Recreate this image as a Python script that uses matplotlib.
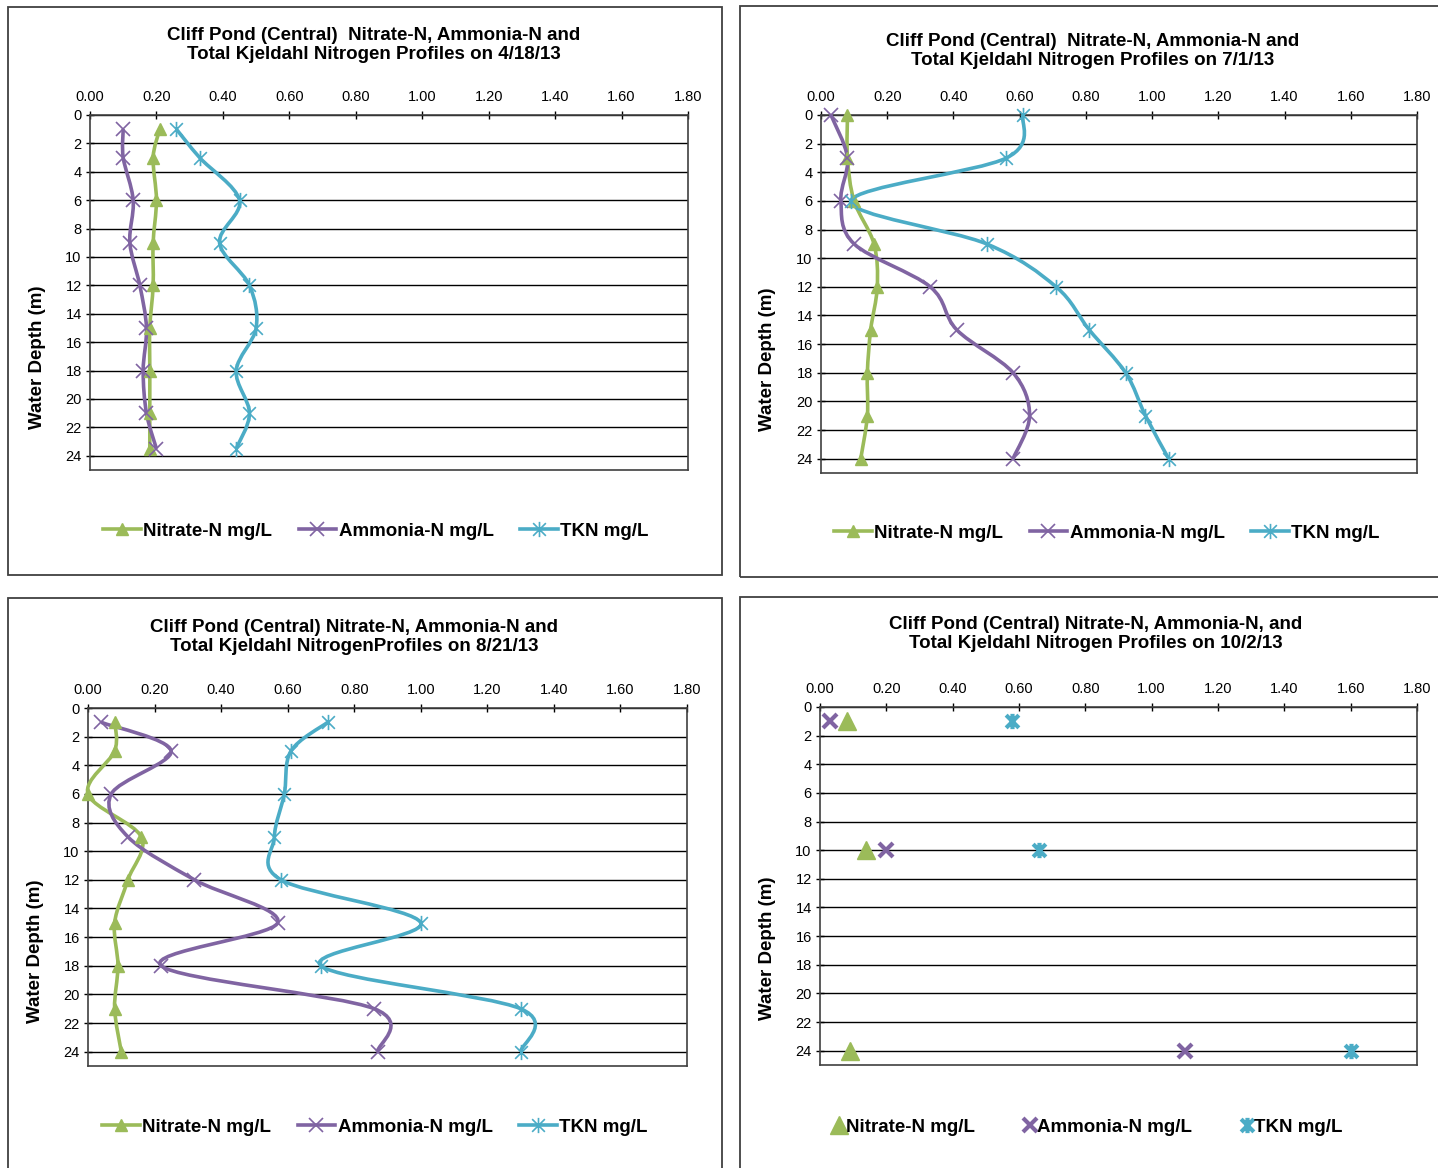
import numpy as np
import matplotlib
matplotlib.use('Agg')
import matplotlib.pyplot as plt
from matplotlib.path import Path
from matplotlib.patches import PathPatch, Rectangle
from matplotlib.lines import Line2D

plt.rcParams['font.family'] = ['Liberation Sans', 'DejaVu Sans']

# --- data (mg/L vs water depth in m) ---
depth_apr = [1, 3, 6, 9, 12, 15, 18, 21, 23.5]
nitrate_apr = [0.21, 0.19, 0.20, 0.19, 0.19, 0.18, 0.18, 0.18, 0.18]
ammonia_apr = [0.10, 0.10, 0.13, 0.12, 0.15, 0.17, 0.16, 0.17, 0.20]
tkn_apr = [0.26, 0.33, 0.45, 0.39, 0.48, 0.50, 0.44, 0.48, 0.44]

depth_jul = [0, 3, 6, 9, 12, 15, 18, 21, 24]
nitrate_jul = [0.08, 0.08, 0.10, 0.16, 0.17, 0.15, 0.14, 0.14, 0.12]
ammonia_jul = [0.03, 0.08, 0.06, 0.10, 0.33, 0.41, 0.58, 0.63, 0.58]
tkn_jul = [0.61, 0.56, 0.09, 0.50, 0.71, 0.81, 0.92, 0.98, 1.05]

depth_aug = [1, 3, 6, 9, 12, 15, 18, 21, 24]
nitrate_aug = [0.08, 0.08, 0.00, 0.16, 0.12, 0.08, 0.09, 0.08, 0.10]
ammonia_aug = [0.04, 0.25, 0.07, 0.12, 0.32, 0.57, 0.22, 0.86, 0.87]
tkn_aug = [0.72, 0.61, 0.59, 0.56, 0.58, 1.00, 0.70, 1.30, 1.30]

depth_oct = [1, 10, 24]
nitrate_oct = [0.08, 0.14, 0.09]
ammonia_oct = [0.03, 0.20, 1.10]
tkn_oct = [0.58, 0.66, 1.60]

titles = [
    'Cliff Pond (Central)  Nitrate-N, Ammonia-N and\nTotal Kjeldahl Nitrogen Profiles on 4/18/13',
    'Cliff Pond (Central)  Nitrate-N, Ammonia-N and\nTotal Kjeldahl Nitrogen Profiles on 7/1/13',
    'Cliff Pond (Central) Nitrate-N, Ammonia-N and\nTotal Kjeldahl NitrogenProfiles on 8/21/13',
    'Cliff Pond (Central) Nitrate-N, Ammonia-N, and\nTotal Kjeldahl Nitrogen Profiles on 10/2/13',
]
series_names = ['Nitrate-N mg/L', 'Ammonia-N mg/L', 'TKN mg/L']
x_ticks = [0.0, 0.2, 0.4, 0.6, 0.8, 1.0, 1.2, 1.4, 1.6, 1.8]
y_ticks = [0, 2, 4, 6, 8, 10, 12, 14, 16, 18, 20, 22, 24]

GREEN = '#9BBB59'
PURPLE = '#8064A2'
BLUE = '#4BACC6'
colors = [GREEN, PURPLE, BLUE]

# excel-like "star" marker: an x with a vertical bar
star = Path([(-1, -1), (1, 1), (-1, 1), (1, -1), (0, -1.2), (0, 1.2)],
            [Path.MOVETO, Path.LINETO, Path.MOVETO, Path.LINETO, Path.MOVETO, Path.LINETO])
markers = ['^', 'x', star]

W, H = 1438, 1168
fig = plt.figure(figsize=(W / 100, H / 100), dpi=100)


def box(l, t, r, b):
    return [l / W, 1 - b / H, (r - l) / W, (b - t) / H]


def smooth_path(x, y):
    # bezier through the points, like excel's smoothed line
    pts = np.column_stack([x, y]).astype(float)
    ext = np.vstack([pts[0], pts, pts[-1]])
    verts = [pts[0]]
    codes = [Path.MOVETO]
    for i in range(len(pts) - 1):
        p0, p1, p2, p3 = ext[i], ext[i + 1], ext[i + 2], ext[i + 3]
        verts += [p1 + (p2 - p0) / 6, p2 - (p3 - p1) / 6, p2]
        codes += [Path.CURVE4] * 3
    return Path(verts, codes)


frames = [(8, 7, 722, 575), (740, 6, 1450, 577), (8, 598, 722, 1180), (740, 597, 1450, 1180)]
axboxes = [(90, 115, 688, 470), (821, 115, 1417, 473), (88, 708, 687, 1066), (820, 707, 1417, 1065)]
title_pos = [(374, 45), (1093, 51), (354, 637), (1096, 634)]
ylabel_pos = [(37, 357), (768, 359), (35, 951), (768, 948)]
legend_pos = [(376, 531), (1107, 533), (375, 1127), (1088, 1127)]
data = [
    (depth_apr, [nitrate_apr, ammonia_apr, tkn_apr]),
    (depth_jul, [nitrate_jul, ammonia_jul, tkn_jul]),
    (depth_aug, [nitrate_aug, ammonia_aug, tkn_aug]),
    (depth_oct, [nitrate_oct, ammonia_oct, tkn_oct]),
]

for k in range(4):
    fig.add_artist(Rectangle((frames[k][0] / W, 1 - frames[k][3] / H),
                             (frames[k][2] - frames[k][0]) / W, (frames[k][3] - frames[k][1]) / H,
                             transform=fig.transFigure, fill=False, ec='#404040', lw=1.3))
    ax = fig.add_axes(box(*axboxes[k]))
    depth, series = data[k]
    smooth = k < 3
    handles = []
    for j in range(3):
        if smooth:
            ax.add_patch(PathPatch(smooth_path(series[j], depth), fill=False,
                                   ec=colors[j], lw=2.6, zorder=3, clip_on=False))
            ms = [9, 10, 11][j]
            mew = [1, 1.2, 1.2][j]
        else:
            ms = [13, 10, 11][j]
            mew = [1, 3, 3][j]
        mfc = 'none' if j == 2 else colors[j]
        ax.plot(series[j], depth, ls='none', marker=markers[j], ms=ms, mew=mew,
                color=colors[j], mfc=mfc, zorder=4, clip_on=False)
        handles.append(Line2D([], [], color=colors[j], lw=2.6 if smooth else 0,
                              marker=markers[j], ms=ms, mew=mew, mfc=mfc))

    ax.set_xlim(0, 1.8)
    ax.set_ylim(25, 0)
    ax.set_xticks(x_ticks)
    ax.set_xticklabels(['%.2f' % v for v in x_ticks])
    ax.set_yticks(y_ticks)
    ax.xaxis.tick_top()
    ax.tick_params(axis='x', direction='inout', length=6, width=1, pad=5, labelsize=10.5)
    ax.tick_params(axis='y', direction='inout', length=6, width=1, pad=3, labelsize=10.5)
    ax.yaxis.grid(True, color='black', lw=1)
    ax.set_axisbelow(True)
    for s in ax.spines.values():
        s.set_color('#404040')
        s.set_linewidth(1.2)

    fig.text(title_pos[k][0] / W, 1 - title_pos[k][1] / H, titles[k], ha='center', va='center',
             fontsize=13.5, fontweight='bold', linespacing=1.1)
    fig.text(ylabel_pos[k][0] / W, 1 - ylabel_pos[k][1] / H, 'Water Depth (m)', rotation=90,
             ha='center', va='center', fontsize=13.5, fontweight='bold')
    fig.legend(handles, series_names, loc='center',
               bbox_to_anchor=(legend_pos[k][0] / W, 1 - legend_pos[k][1] / H), ncol=3,
               frameon=False, prop={'size': 13.5, 'weight': 'bold'},
               handlelength=2.0 if smooth else 0.6, handletextpad=0.15 if smooth else 0.1,
               columnspacing=1.4 if smooth else 2.6)

fig.savefig('out.png', dpi=100)
